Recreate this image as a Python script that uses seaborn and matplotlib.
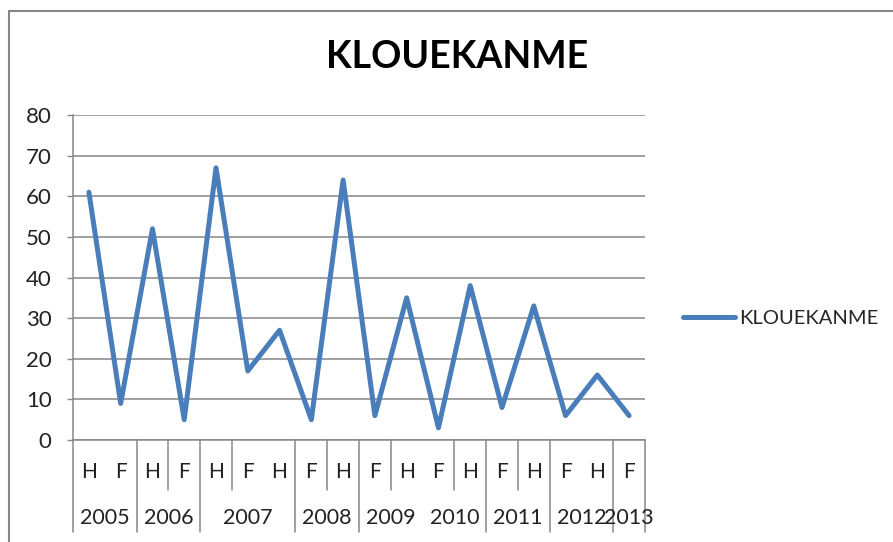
import pandas as pd
import matplotlib.pyplot as plt
import seaborn as sns
from matplotlib.lines import Line2D

# data
halves = ['H', 'F', 'H', 'F', 'H', 'F', 'H', 'F', 'H', 'F', 'H', 'F', 'H', 'F', 'H', 'F', 'H', 'F']
values = [61, 9, 52, 5, 67, 17, 27, 5, 64, 6, 35, 3, 38, 8, 33, 6, 16, 6]
years = ['2005', '2006', '2007', '2008', '2009', '2010', '2011', '2012', '2013']
year_counts = [2, 2, 3, 2, 2, 2, 2, 2, 1]
series_name = 'KLOUEKANME'

df = pd.DataFrame({'pos': range(len(values)), 'half': halves, 'value': values})

sns.set_style('white')
plt.rcParams['font.family'] = ['Lato', 'DejaVu Sans']

fig = plt.figure(figsize=(8.93, 5.42), dpi=100)
ax = fig.add_axes([73 / 893, 102 / 542, 572 / 893, 325 / 542])

grid_col = '#868686'
line_col = '#4a7ebb'
txt_col = '#222222'

sns.lineplot(data=df, x='pos', y='value', color=line_col, linewidth=3.6, ax=ax,
             label=series_name, legend=False)

ax.set_xlim(-0.5, len(values) - 0.5)
ax.set_ylim(0, 80)
ax.set_yticks(range(0, 81, 10))
ax.yaxis.grid(True, color=grid_col, linewidth=1.1)
ax.set_axisbelow(True)
ax.tick_params(axis='y', length=4.5, width=1, color=grid_col, pad=11,
               labelsize=16, labelcolor=txt_col, left=True)
ax.set_xticks([])
ax.set_xlabel('')
ax.set_ylabel('')
for s in ['top', 'right']:
    ax.spines[s].set_visible(False)
ax.spines['left'].set_color(grid_col)
ax.spines['bottom'].set_color(grid_col)
ax.spines['left'].set_linewidth(1.1)
ax.spines['bottom'].set_linewidth(1.1)

trans = ax.get_xaxis_transform()
# inner category labels
for i, h in enumerate(halves):
    ax.text(i, -0.098, h, transform=trans, ha='center', va='center',
            fontsize=15, color=txt_col)

# year labels and group separators
start = 0
bounds = [0]
for yr, n in zip(years, year_counts):
    ax.text(start + (n - 1) / 2, -0.24, yr, transform=trans, ha='center',
            va='center', fontsize=15.5, color=txt_col)
    start += n
    bounds.append(start)
full_lines = [b for b in bounds if b != 11]
short_lines = [3, 5, 8, 10, 12, 14]
for b in full_lines:
    ax.plot([b - 0.5, b - 0.5], [0, -0.283], transform=trans, color=grid_col,
            linewidth=1.1, clip_on=False)
for b in short_lines:
    ax.plot([b - 0.5, b - 0.5], [0, -0.154], transform=trans, color=grid_col,
            linewidth=1.1, clip_on=False)

fig.text(457 / 893, 1 - 57 / 542, series_name, ha='center', va='center',
         fontsize=27, fontweight='bold', color='black')

fig.legend(handles=[Line2D([0], [0], color=line_col, linewidth=3.6)],
           labels=[series_name], loc='center left',
           bbox_to_anchor=(665 / 893, 1 - 318 / 542), frameon=False,
           fontsize=14.5, handlelength=2.6, handletextpad=0.2)

# chart area border
fig.add_artist(Line2D([9 / 893, 1], [1 - 11 / 542, 1 - 11 / 542], color=grid_col, linewidth=1.5))
fig.add_artist(Line2D([9 / 893, 9 / 893], [0, 1 - 11 / 542], color=grid_col, linewidth=1.5))

fig.savefig('out.png', dpi=100)
